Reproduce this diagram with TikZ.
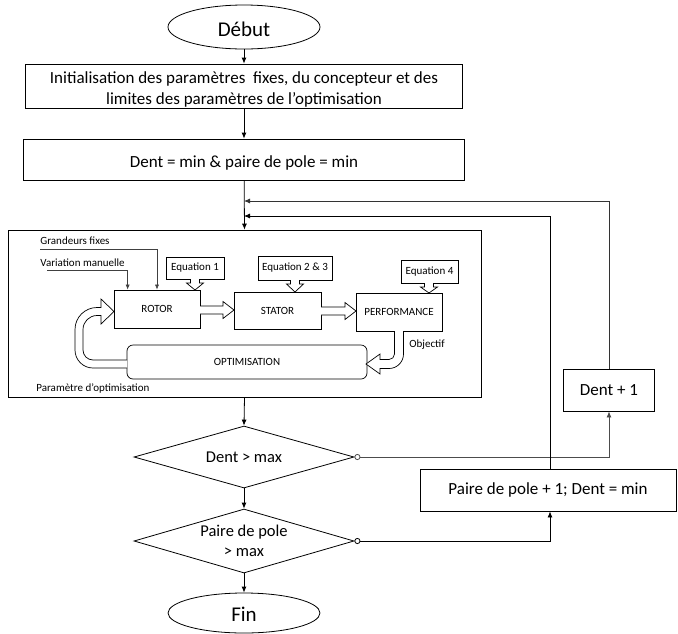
\documentclass[tikz,border=0pt]{standalone}
\usepackage{fontspec}
\setmainfont{Carlito}
\usetikzlibrary{shapes.geometric,arrows.meta,calc}
\newcommand\myharrow[3]{%
  \draw[blk] (#1,#3-4) -- (#2-11,#3-4) -- (#2-11,#3-8.5) -- (#2,#3) -- (#2-11,#3+8.5) -- (#2-11,#3+4) -- (#1,#3+4);}
\newcommand\mydptr[3]{%
  \fill[white] (#1-4.5,#2-0.7) rectangle (#1+4.5,#2+1);
  \draw[blk] (#1-4.5,#2) -- (#1-4.5,#2+4) -- (#1-8.5,#2+4) -- (#1,#3) -- (#1+8.5,#2+4) -- (#1+4.5,#2+4) -- (#1+4.5,#2);}
\begin{document}
\begin{tikzpicture}[x=1pt,y=-1pt,
  line width=0.8pt,
  big/.style={font=\fontsize{17}{21.5}\selectfont},
  sml/.style={font=\fontsize{11}{13}\selectfont},
  box/.style={draw, inner sep=0pt, align=center, big},
  txt/.style={inner sep=0pt, align=center, big},
  sbox/.style={draw, line width=0.7pt, inner sep=0pt, align=center, sml},
  term/.style={draw, ellipse, inner sep=0pt, minimum width=152pt},
  termtxt/.style={inner sep=0pt, font=\fontsize{21}{25}\selectfont},
  dec/.style={draw, diamond, inner sep=0pt, aspect=3.5, minimum width=220pt, align=center, font=\fontsize{16.5}{20}\selectfont},
  blk/.style={line width=0.7pt, fill=white},
  arr/.style={-{Latex[length=6pt,width=5pt]}},
  sarr/.style={-{Latex[length=5pt,width=4pt]}},
  oarr/.style={{Circle[open,length=6pt,width=6pt]}-{Latex[length=6pt,width=5pt]}},
]
\useasboundingbox (0,0) rectangle (678,633);

% main column
\node[term, minimum height=44pt] (start) at (244,27) {};
\node[termtxt] (startT) at ([yshift=-2.5pt]start.center) {Début};
\node[box, minimum width=437pt, minimum height=44pt] (init) at (244,86) {};
\node[txt] (initT) at ([yshift=-3.5pt]init.center)
  {Initialisation des paramètres\ \ fixes, du concepteur et des\\limites des paramètres de l’optimisation};
\node[box, minimum width=441pt, minimum height=41pt] (initd) at (244,159.5) {};
\node[txt] (initdT) at ([yshift=-3pt]initd.center) {Dent = min \& paire de pole = min};
\node[draw, inner sep=0pt, minimum width=473pt, minimum height=167pt] (bigbox) at (244.5,313.5) {};
\node[dec, minimum height=62pt] (d1) at (244,457) {Dent > max};
\node[dec, minimum height=64pt] (d2) at (244,541) {Paire de pole\\> max};
\node[term, minimum height=40pt] (fin) at (244,613) {};
\node[termtxt] (finT) at ([yshift=-1.5pt]fin.center) {Fin};
\node[box, minimum width=91pt, minimum height=42pt] (dplus) at (609,390) {Dent + 1};
\node[box, minimum width=256pt, minimum height=42pt] (pp) at (548,490) {Paire de pole + 1; Dent = min};

\coordinate (j1) at (244,201);
\coordinate (j2) at (244,216);

\draw[arr] (start) -- (init);
\draw[arr] (init) -- (initd);
\draw[arr] (initd) -- (bigbox.north);
\draw[arr] (bigbox.south) -- (d1.north);
\draw[arr] (d1) -- (d2);
\draw[arr] (d2) -- (fin);
\draw[oarr, draw=black!70] (d1.east) -| (dplus.south);
\draw[oarr] (d2.east) -| ([xshift=2pt]pp.south);
\draw[arr, draw=black!80] (dplus.north) |- (j1);
\draw[arr] ([xshift=2pt]pp.north) |- (j2);

% inner diagram
\node[sbox, minimum width=86pt, minimum height=38pt] (rotor) at (157,309) {ROTOR};
\node[sbox, minimum width=87pt, minimum height=37pt] (stator) at (277.5,310.5) {STATOR};
\node[sbox, minimum width=86pt, minimum height=38pt] (perf) at (399,312) {PERFORMANCE};
\node[sbox, minimum width=58pt, minimum height=22pt] (eq1) at (195,268) {Equation 1};
\node[sbox, minimum width=74pt, minimum height=24pt] (eq23) at (295,268) {Equation 2 \& 3};
\node[sbox, minimum width=57pt, minimum height=23pt] (eq4) at (429.5,271.5) {Equation 4};
\node[sbox, rounded corners=6pt, minimum width=240pt, minimum height=34pt] (opt) at (247,362) {OPTIMISATION};

\node[sml, anchor=west, inner sep=0pt] (gf) at (40,241) {Grandeurs fixes};
\node[sml, anchor=west, inner sep=0pt] (vm) at (40,263) {Variation manuelle};
\node[sml, anchor=west, inner sep=0pt] (obj) at (409,345) {Objectif};
\node[sml, anchor=west, inner sep=0pt] (po) at (36,388) {Paramètre d’optimisation};

\coordinate (g0) at (40,249);
\coordinate (v0) at (47,270);
\draw[sarr, line width=0.6pt, draw=black!75] (g0) -| (rotor.north);
\draw[sarr, line width=0.6pt, draw=black!75] (v0) -| ([xshift=14pt]rotor.north west);

\myharrow{200}{234}{310}
\myharrow{321}{356}{311}
\mydptr{195}{279}{290}
\mydptr{295}{280}{292}
\mydptr{429}{283}{293}

% perf -> opt curved block arrow
\draw[blk] (403.5,331) -- (403.5,354) arc[start angle=0,end angle=90,radius=14.5]
  -- (380,368.5) -- (380,374) -- (366,364) -- (380,354) -- (380,359.5) -- (389,359.5)
  arc[start angle=90,end angle=0,radius=5.5] -- (394.5,331);
% opt -> rotor loop block arrow
\draw[blk] (127,368) -- (93,368) arc[start angle=90,end angle=180,radius=18]
  -- (75,329.5) arc[start angle=180,end angle=270,radius=22]
  -- (101,307.5) -- (101,299) -- (114,311.5) -- (101,324) -- (101,315.5) -- (97,315.5)
  arc[start angle=270,end angle=180,radius=14] -- (83,350)
  arc[start angle=180,end angle=90,radius=10] -- (127,360);
\end{tikzpicture}
\end{document}
